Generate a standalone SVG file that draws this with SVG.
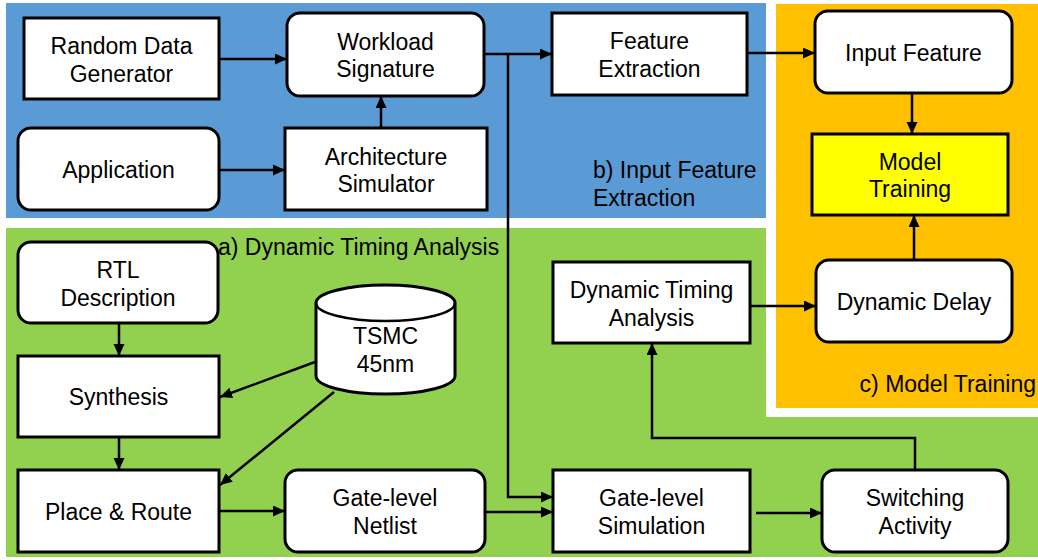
<svg xmlns="http://www.w3.org/2000/svg" width="1038" height="560" viewBox="0 0 1038 560">
<style>
.box{fill:#fff;stroke:#000;stroke-width:3}
.yel{fill:#ffff00;stroke:#000;stroke-width:3}
.t{font-family:"Liberation Sans",Arial,sans-serif;font-size:23px;fill:#000;text-anchor:middle}
.lbl{font-family:"Liberation Sans",Arial,sans-serif;font-size:23px;fill:#000}
.c{fill:none;stroke:#000;stroke-width:2.5}
</style>
<defs>
<marker id="ah" markerUnits="userSpaceOnUse" markerWidth="12" markerHeight="12" refX="12" refY="5.5" orient="auto">
<path d="M0,0 L12,5.5 L0,11 z" fill="#000"/>
</marker>
</defs>
<rect x="0" y="0" width="1038" height="560" fill="#fff"/>
<g id="regions">
<rect x="6" y="3" width="760" height="215" fill="#5b9bd5"/>
<rect x="6" y="228" width="1032" height="329" fill="#92d050"/>
<rect x="766" y="218" width="272" height="199" fill="#fff"/>
<rect x="776" y="4" width="262" height="404" fill="#ffc000"/>
<text class="lbl" x="218" y="255">a) Dynamic Timing Analysis</text>
<text class="lbl" x="593" y="178">b) Input Feature</text>
<text class="lbl" x="593" y="206">Extraction</text>
<text class="lbl" x="1036" y="392" text-anchor="end">c) Model Training</text>
</g>
<g id="connectors">
<line class="c" x1="219" y1="59" x2="287" y2="59" marker-end="url(#ah)"/>
<line class="c" x1="219" y1="170" x2="285" y2="170" marker-end="url(#ah)"/>
<line class="c" x1="381" y1="128" x2="381" y2="96" marker-end="url(#ah)"/>
<line class="c" x1="484" y1="54" x2="552" y2="54" marker-end="url(#ah)"/>
<polyline class="c" points="508,54 508,497 553,497" marker-end="url(#ah)"/>
<line class="c" x1="747" y1="53" x2="815" y2="53" marker-end="url(#ah)"/>
<line class="c" x1="912" y1="93" x2="912" y2="134" marker-end="url(#ah)"/>
<line class="c" x1="914" y1="260" x2="914" y2="215" marker-end="url(#ah)"/>
<line class="c" x1="750" y1="306" x2="816" y2="306" marker-end="url(#ah)"/>
<line class="c" x1="119" y1="323" x2="119" y2="356" marker-end="url(#ah)"/>
<line class="c" x1="119" y1="437" x2="119" y2="470" marker-end="url(#ah)"/>
<line class="c" x1="315" y1="362" x2="220" y2="397" marker-end="url(#ah)"/>
<line class="c" x1="334" y1="392" x2="220" y2="485" marker-end="url(#ah)"/>
<line class="c" x1="219" y1="511" x2="285" y2="511" marker-end="url(#ah)"/>
<line class="c" x1="485" y1="512" x2="553" y2="512" marker-end="url(#ah)"/>
<line class="c" x1="756" y1="513" x2="822" y2="513" marker-end="url(#ah)"/>
<polyline class="c" points="915,470 915,438 652,438 652,343" marker-end="url(#ah)"/>
</g>
<g id="random-data-generator">
<rect class="box" x="24" y="18" width="195" height="81"/>
<text class="t" x="121.5" y="54">Random Data</text>
<text class="t" x="121.5" y="81.5">Generator</text>
</g>
<g id="workload-signature">
<rect class="box" x="287" y="13" width="197" height="83" rx="13"/>
<text class="t" x="385.5" y="50">Workload</text>
<text class="t" x="385.5" y="77">Signature</text>
</g>
<g id="application">
<rect class="box" x="18" y="128" width="201" height="82" rx="13"/>
<text class="t" x="118.5" y="177.5">Application</text>
</g>
<g id="architecture-simulator">
<rect class="box" x="285" y="128" width="202" height="82"/>
<text class="t" x="386" y="164.5">Architecture</text>
<text class="t" x="386" y="192">Simulator</text>
</g>
<g id="feature-extraction">
<rect class="box" x="552" y="13" width="195" height="82"/>
<text class="t" x="649.5" y="49">Feature</text>
<text class="t" x="649.5" y="77">Extraction</text>
</g>
<g id="input-feature">
<rect class="box" x="815" y="11" width="197" height="82" rx="13"/>
<text class="t" x="913.5" y="60.5">Input Feature</text>
</g>
<g id="model-training">
<rect class="yel" x="812" y="134" width="196" height="81"/>
<text class="t" x="910" y="170">Model</text>
<text class="t" x="910" y="197">Training</text>
</g>
<g id="rtl-description">
<rect class="box" x="18" y="242" width="200" height="81" rx="13"/>
<text class="t" x="118" y="278">RTL</text>
<text class="t" x="118" y="306">Description</text>
</g>
<g id="synthesis">
<rect class="box" x="18" y="356" width="201" height="81"/>
<text class="t" x="118.5" y="405">Synthesis</text>
</g>
<g id="place-route">
<rect class="box" x="18" y="470" width="201" height="82"/>
<text class="t" x="118.5" y="519.5">Place &amp; Route</text>
</g>
<g id="tsmc-45nm">
<path class="box" d="M316,303 L316,376 A69.5,18 0 0 0 455,376 L455,303 A69.5,18 0 0 0 316,303 z"/>
<path class="c" d="M316,303 A69.5,18 0 0 0 455,303" stroke-width="3"/>
<text class="t" x="385.5" y="344">TSMC</text>
<text class="t" x="385.5" y="372">45nm</text>
</g>
<g id="gate-level-netlist">
<rect class="box" x="285" y="470" width="200" height="82" rx="13"/>
<text class="t" x="385" y="506">Gate-level</text>
<text class="t" x="385" y="533.5">Netlist</text>
</g>
<g id="gate-level-simulation">
<rect class="box" x="553" y="470" width="197" height="82"/>
<text class="t" x="651.5" y="506">Gate-level</text>
<text class="t" x="651.5" y="533.5">Simulation</text>
</g>
<g id="switching-activity">
<rect class="box" x="822" y="470" width="186" height="82" rx="13"/>
<text class="t" x="915" y="506">Switching</text>
<text class="t" x="915" y="533.5">Activity</text>
</g>
<g id="dynamic-timing-analysis">
<rect class="box" x="553" y="262" width="197" height="81"/>
<text class="t" x="651.5" y="298">Dynamic Timing</text>
<text class="t" x="651.5" y="325.5">Analysis</text>
</g>
<g id="dynamic-delay">
<rect class="box" x="816" y="260" width="196" height="82" rx="13"/>
<text class="t" x="914" y="310">Dynamic Delay</text>
</g>
</svg>
